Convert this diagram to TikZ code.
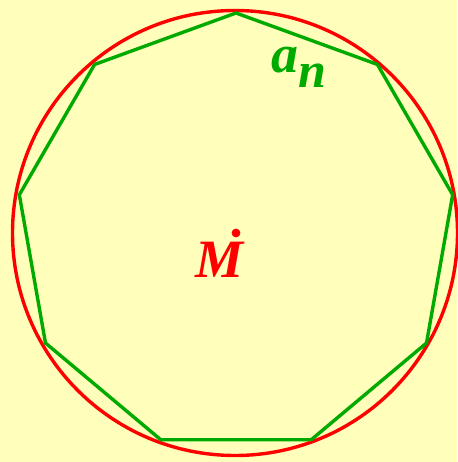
\documentclass[tikz,border=0pt]{standalone}
\usepackage{fontspec}
\setmainfont{Liberation Serif}
\usepackage{tikz}
\usetikzlibrary{calc}
\definecolor{paper}{RGB}{255,255,187}
\definecolor{polygreen}{RGB}{0,170,0}

\begin{document}
\begin{tikzpicture}[
    x=1pt, y=1pt,
    every node/.style={font=\bfseries\itshape, inner sep=0pt},
    rim/.style={draw=red, line width=3.4pt},
    side/.style={draw=polygreen, line width=3.4pt, line join=round},
    lbl/.style={anchor=base west, font=\fontsize{54}{54}\selectfont\bfseries\itshape}
  ]
    \fill[paper] (0,0) rectangle (457,462);
    \useasboundingbox (0,0) rectangle (457,462);
    \coordinate (centre) at (236,229);
    % vertices of the nonagon
    \foreach \k in {0,...,8}
      \coordinate (v\k) at ($(centre)+({90+40*\k}:220)$);
    \draw[rim] (235,229) circle (222.5);
    \draw[side] (v0) -- (v1) -- (v2) -- (v3) -- (v4) -- (v5) -- (v6) -- (v7) -- (v8) -- cycle;
    \fill[red] (centre) circle (4.4);
    \node[lbl, text=red] (mid) at (195,184) {M};
    \node[lbl, text=polygreen] (side) at (271,389) {a\raisebox{-15pt}{\fontsize{50}{50}\selectfont n}};
  \end{tikzpicture}
\end{document}
